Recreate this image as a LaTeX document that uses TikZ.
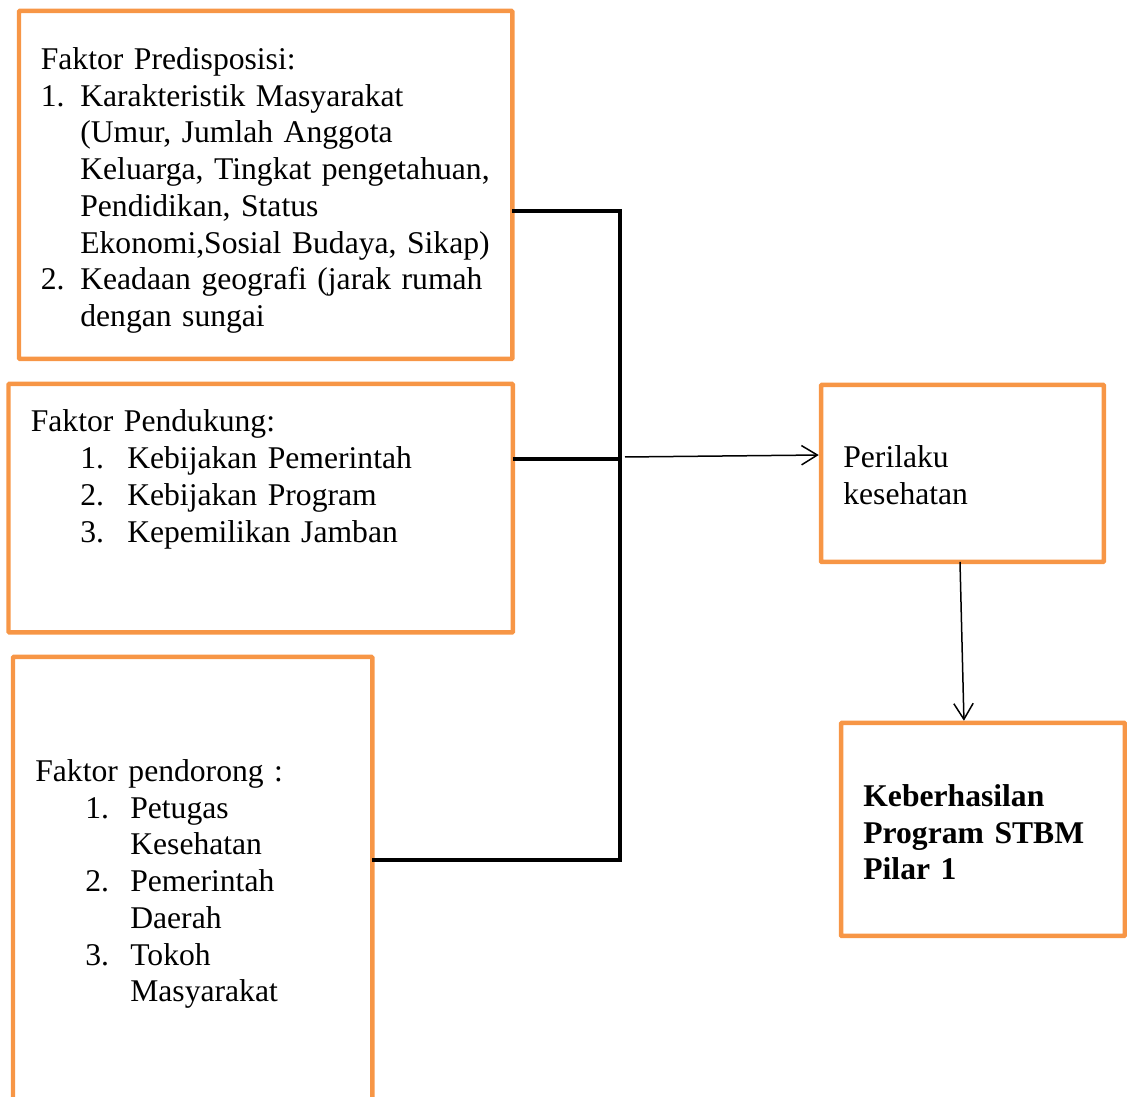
\documentclass[tikz,border=0pt]{standalone}
\usepackage{fontspec}
\setmainfont{Liberation Serif}
\usetikzlibrary{arrows.meta}
\definecolor{oranye}{HTML}{F79646}
\newcommand{\butir}[3]{\hspace*{#1}\makebox[#2][l]{#3}}
\tikzset{
  kotak/.style={draw=oranye, line width=0.09cm, rounded corners=0.5pt, anchor=north west, inner sep=0, outer sep=0},
  teks/.style={anchor=base west, inner sep=0, text width=10cm, align=left, font=\fontsize{18}{20.9}\selectfont},
  garis/.style={line width=0.066cm},
  panah/.style={line width=0.03cm, shorten >=0.045cm, -{Straight Barb[length=9pt,width=11pt]}}
}
\begin{document}
\begin{tikzpicture}[x=0.02cm,y=-0.02cm]
    \useasboundingbox (0,0) rectangle (1127,1097);
    \node[kotak, minimum width=9.87cm, minimum height=6.96cm] (pred) at (19,11) {};
    \node[kotak, minimum width=10.09cm, minimum height=4.97cm] (pend) at (8.5,384) {};
    \node[kotak, minimum width=7.19cm, minimum height=9.4cm] (dorong) at (13,657) {};
    \node[kotak, minimum width=5.66cm, minimum height=3.54cm] (peri) at (821,385) {};
    \node[kotak, minimum width=5.68cm, minimum height=4.26cm] (hasil) at (841,723) {};
    \node[teks] (predtxt) at (40.5,69.5) {Faktor Predisposisi:\\
        \butir{0cm}{0.79cm}{1.}Karakteristik Masyarakat\\
        \hspace*{0.79cm}(Umur, Jumlah Anggota\\
        \hspace*{0.79cm}Keluarga, Tingkat pengetahuan,\\
        \hspace*{0.79cm}Pendidikan, Status\\
        \hspace*{0.79cm}Ekonomi,Sosial Budaya, Sikap)\\
        \butir{0cm}{0.79cm}{2.}Keadaan geografi (jarak rumah\\
        \hspace*{0.79cm}dengan sungai};
    \node[teks] (pendtxt) at (30.5,432) {Faktor Pendukung:\\
        \butir{0.99cm}{0.94cm}{1.}Kebijakan Pemerintah\\
        \butir{0.99cm}{0.94cm}{2.}Kebijakan Program\\
        \butir{0.99cm}{0.94cm}{3.}Kepemilikan Jamban};
    \node[teks] (dorongtxt) at (35,781.5) {Faktor pendorong :\\
        \butir{1cm}{0.9cm}{1.}Petugas\\
        \hspace*{1.9cm}Kesehatan\\
        \butir{1cm}{0.9cm}{2.}Pemerintah\\
        \hspace*{1.9cm}Daerah\\
        \butir{1cm}{0.9cm}{3.}Tokoh\\
        \hspace*{1.9cm}Masyarakat};
    \node[teks] (peritxt) at (843,468) {Perilaku\\ kesehatan};
    \node[teks, font=\fontsize{18}{20.9}\selectfont\bfseries] (hasiltxt) at (863,806.5) {Keberhasilan\\ Program STBM\\ Pilar 1};
    \coordinate (c1) at (620,211);
    \coordinate (c2) at (620,459);
    \coordinate (c3) at (620,860);
    \draw[garis] (pred.east |- c1) -- (c1) -- (c3) -- (dorong.east |- c3);
    \draw[garis] (pend.east |- c2) -- (c2);
    \coordinate (a1) at (625,457);
    \coordinate (a2) at (0,455);
    \draw[panah] (a1) -- (peri.west |- a2);
    \coordinate (d1) at (960,0);
    \coordinate (d2) at (964,0);
    \draw[panah] (peri.south -| d1) -- (hasil.north -| d2);
\end{tikzpicture}
\end{document}
